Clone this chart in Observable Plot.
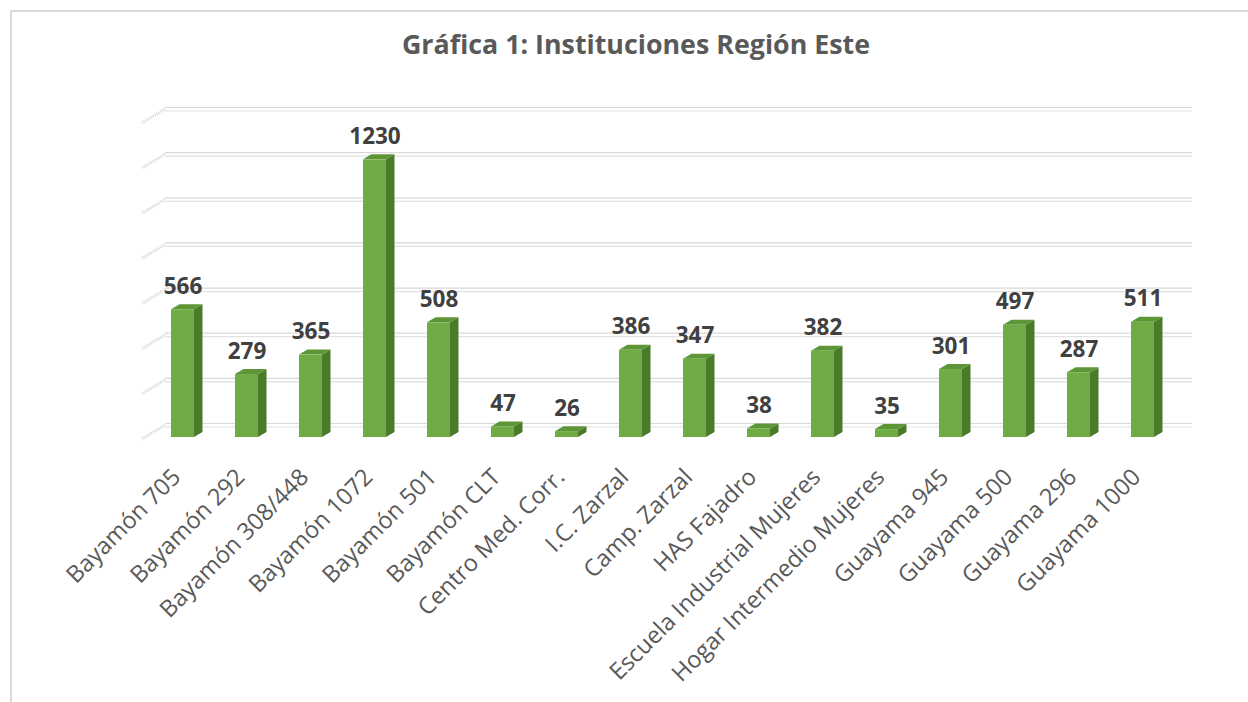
<!DOCTYPE html>
<html>
<head>
<meta charset="utf-8">
<script src="https://cdn.jsdelivr.net/npm/d3@7"></script>
<script src="https://cdn.jsdelivr.net/npm/@observablehq/plot@0.6"></script>
<style>
  body { margin: 0; background: #fff; }
  #wrap { position: relative; width: 1248px; height: 702px; overflow: hidden; font-family: "Open Sans", sans-serif; background: #fff; }
  #frame { position: absolute; left: 10px; top: 10px; width: 1400px; height: 900px; border-left: 2px solid #D9D9D9; border-top: 2px solid #D9D9D9; pointer-events: none; }
  #title { position: relative; height: 80px; box-sizing: border-box; padding-top: 30px; width: 1272px; text-align: center; font-size: 26.8px; line-height: 27px; font-weight: 700; color: #595959; }
  #chart { position: relative; }
  svg { display: block; }
</style>
</head>
<body>
<div id="wrap">
  <div id="frame"></div>
  <div id="title">Gráfica 1: Instituciones Región Este</div>
  <div id="chart"></div>
</div>
<script>
const categories = [
  "Bayamón 705", "Bayamón 292", "Bayamón 308/448", "Bayamón 1072", "Bayamón 501",
  "Bayamón CLT", "Centro Med. Corr.", "I.C. Zarzal", "Camp. Zarzal", "HAS Fajadro",
  "Escuela Industrial Mujeres", "Hogar Intermedio Mujeres", "Guayama 945", "Guayama 500",
  "Guayama 296", "Guayama 1000"
];
const values = [566, 279, 365, 1230, 508, 47, 26, 386, 347, 38, 382, 35, 301, 497, 287, 511];
const yTicks = [0, 200, 400, 600, 800, 1000, 1200, 1400];

const data = categories.map((name, i) => ({name, value: values[i]}));

const FRONT = "#6FAC45", SIDE = "#4A7B2B", TOP = "#5C9636";
const DEPTH_X = 8.5, DEPTH_Y = -5;

const chart = Plot.plot({
  width: 1248,
  height: 622,
  marginLeft: 149,
  marginRight: 72,
  marginTop: 41,
  marginBottom: 265,
  style: {fontFamily: "'Open Sans', sans-serif", background: "transparent", overflow: "visible"},
  x: {domain: categories, paddingInner: 0.64, paddingOuter: 0.32, axis: null},
  y: {domain: [0, 1400], axis: null},
  marks: [
    // back-wall gridlines with side-wall hatch
    Plot.ruleY(yTicks, {
      y: d => d,
      render(index, scales, values, dimensions, context) {
        const g = d3.create("svg:g");
        const [r0, r1] = scales.x.range();
        const x0 = r0 + 16, x1 = r1 + 16;
        for (const i of index) {
          const yy = scales.y(yTicks[i]) - 12;
          g.append("line").attr("x1", x0).attr("x2", x1).attr("y1", yy - 1.5).attr("y2", yy - 1.5)
            .attr("stroke", "#D9D9D9").attr("stroke-width", 1.2);
          g.append("line").attr("x1", x0).attr("x2", x1).attr("y1", yy + 2).attr("y2", yy + 2)
            .attr("stroke", "#E2E2E2").attr("stroke-width", 1.2);
          g.append("line").attr("x1", x0).attr("x2", x0 - 23).attr("y1", yy).attr("y2", yy + 14)
            .attr("stroke", "#D4D4D4").attr("stroke-width", 3).attr("stroke-dasharray", "1 1.2");
        }
        return g.node();
      }
    }),
    // 3D columns
    Plot.barY(data, {
      x: "name",
      y: "value",
      fill: FRONT,
      render(index, scales, values, dimensions, context) {
        const g = d3.create("svg:g");
        const w = scales.x.bandwidth();
        for (const i of index) {
          const d = data[i];
          const xl = scales.x(d.name);
          const yt = scales.y(d.value);
          const yb = scales.y(0);
          g.append("polygon")
            .attr("points", [[xl + w, yt], [xl + w + DEPTH_X, yt + DEPTH_Y], [xl + w + DEPTH_X, yb + DEPTH_Y], [xl + w, yb]].map(p => p.join(",")).join(" "))
            .attr("fill", SIDE);
          g.append("polygon")
            .attr("points", [[xl, yt], [xl + DEPTH_X, yt + DEPTH_Y], [xl + w + DEPTH_X, yt + DEPTH_Y], [xl + w, yt]].map(p => p.join(",")).join(" "))
            .attr("fill", TOP);
          g.append("rect").attr("x", xl).attr("y", yt).attr("width", w).attr("height", yb - yt).attr("fill", FRONT);
        }
        return g.node();
      }
    }),
    // value labels
    Plot.text(data, {
      x: "name",
      y: "value",
      text: d => String(d.value),
      dy: -16,
      lineAnchor: "bottom",
      fontSize: 22.5,
      fontWeight: 700,
      fill: "#404040"
    }),
    // category labels
    Plot.text(data, {
      x: "name",
      y: () => 0,
      text: "name",
      rotate: -45,
      textAnchor: "end",
      lineAnchor: "bottom",
      dx: -1,
      dy: 41,
      fontSize: 23.5,
      fill: "#595959"
    })
  ]
});
document.getElementById("chart").appendChild(chart);
</script>
</body>
</html>
